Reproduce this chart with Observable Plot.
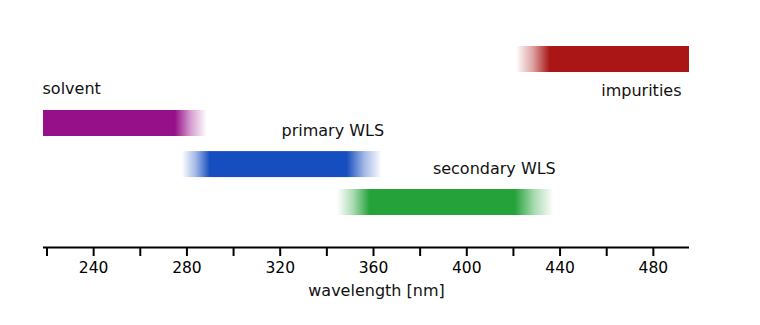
<!DOCTYPE html>
<html><head><meta charset="utf-8">
<script src="https://cdn.jsdelivr.net/npm/d3@7"></script>
<script src="https://cdn.jsdelivr.net/npm/@observablehq/plot@0.6"></script>
<style>body{margin:0;background:#fff;} svg{display:block;}</style>
</head><body><div id="chart"></div>
<script>
// ---- data ----
const names     = ["solvent", "primary WLS", "secondary WLS", "impurities"];
const starts    = [218.5, 278, 344.6, 421.3];   // nm
const ends      = [288.7, 363.7, 437.3, 500];   // nm
const fadeIn    = [0, 12, 14, 14.5];            // nm of soft left edge
const fadeOut   = [13.7, 15, 16.5, 0];          // nm of soft right edge
const lanes     = [2, 0.96, 0, 3.62];           // vertical lane of each band
const colors    = ["#961089", "#174ebf", "#25a23a", "#aa1616"];
const labelAnchor = ["start", "end", "end", "end"];
const labelSide   = ["above", "above", "above", "below"];
const minorTicks  = [220, 260, 300, 340, 380, 420, 460];
const majorTicks  = [240, 280, 320, 360, 400, 440, 480];
const xLabel = "wavelength [nm]";
const xDomain = [218.5, 495.5];
const yDomain = [-1.139, 5.114];

const bands = names.map((name, i) => ({
  name, start: starts[i], end: ends[i], fadeIn: fadeIn[i], fadeOut: fadeOut[i],
  lane: lanes[i], color: colors[i], anchor: labelAnchor[i], side: labelSide[i], id: "grad" + i
}));
const half = 0.329;
const font = "DejaVu Sans, sans-serif";

const marks = [];
bands.forEach(b => {
  marks.push(Plot.rect([b], {
    x1: "start", x2: "end",
    y1: d => d.lane - half, y2: d => d.lane + half,
    fill: `url(#${b.id})`, inset: 0, clip: true
  }));
});
const labelX = d => d.anchor === "start" ? d.start : Math.min(d.end, xDomain[1]);
// labels above, start-anchored
marks.push(Plot.text(bands.filter(d => d.side === "above" && d.anchor === "start"), {
  x: labelX, y: d => d.lane + half, text: "name", textAnchor: "start", lineAnchor: "bottom",
  dx: -1, dy: -16.5, fill: "#111", fontSize: 16
}));
// labels above, end-anchored
marks.push(Plot.text(bands.filter(d => d.side === "above" && d.anchor === "end"), {
  x: labelX, y: d => d.lane + half, text: "name", textAnchor: "end", lineAnchor: "bottom",
  dx: 2, dy: -16, fill: "#111", fontSize: 16
}));
// labels below
marks.push(Plot.text(bands.filter(d => d.side === "below"), {
  x: labelX, y: d => d.lane - half, text: "name", textAnchor: "end", lineAnchor: "top",
  dx: -8, dy: 12.5, fill: "#111", fontSize: 16
}));
marks.push(Plot.ruleY([yDomain[0]], {stroke: "#000", strokeWidth: 2}));
marks.push(Plot.axisX({
  ticks: [...minorTicks, ...majorTicks].sort((a, b) => a - b),
  tickFormat: d => majorTicks.includes(d) ? String(d) : "",
  tickSize: 9, tickPadding: 5, strokeWidth: 2, fontSize: 15.5, color: "#000",
  label: null
}));
marks.push(Plot.text([xLabel], {
  frameAnchor: "bottom", text: d => d, lineAnchor: "top",
  dx: 10, dy: 37, fill: "#111", fontSize: 16
}));

const chart = Plot.plot({
  width: 760, height: 325,
  marginLeft: 43, marginRight: 71, marginTop: 0, marginBottom: 78,
  style: {fontFamily: font, fontSize: "15.5px", background: "#fff", color: "#000", overflow: "visible"},
  x: {domain: xDomain},
  y: {domain: yDomain, axis: null},
  marks
});

// gradients built from the band data
const defs = d3.select(chart).insert("defs", ":first-child");
bands.forEach(b => {
  const span = b.end - b.start;
  const g = defs.append("linearGradient").attr("id", b.id)
    .attr("x1", 0).attr("x2", 1).attr("y1", 0).attr("y2", 0);
  const stops = [];
  if (b.fadeIn > 0) { stops.push([0, 0]); stops.push([b.fadeIn / span * 0.5, 0.4]); stops.push([b.fadeIn / span, 1]); }
  else stops.push([0, 1]);
  if (b.fadeOut > 0) { stops.push([1 - b.fadeOut / span, 1]); stops.push([1 - b.fadeOut / span * 0.5, 0.4]); stops.push([1, 0]); }
  else stops.push([1, 1]);
  stops.forEach(([o, a]) => g.append("stop").attr("offset", o).attr("stop-color", b.color).attr("stop-opacity", a));
});

document.getElementById("chart").appendChild(chart);
</script>
</body></html>
